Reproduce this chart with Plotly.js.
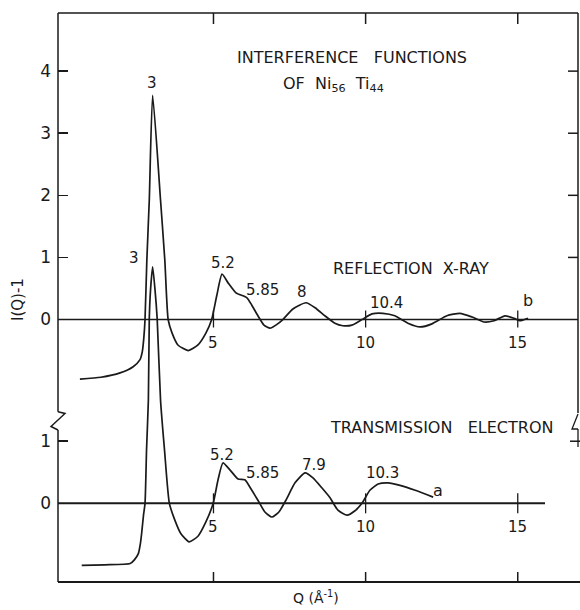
<!DOCTYPE html>
<html>
<head>
<meta charset="utf-8">
<script src="https://cdn.plot.ly/plotly-3.0.1.min.js"></script>
<style>html,body{margin:0;padding:0;background:#fff;}#chart{width:580px;height:610px;}</style>
</head>
<body>
<div id="chart"></div>
<script>
// ---- data ----
// curve b: reflection X-ray, Q in 1/Angstrom, I(Q)-1
var qB = [0.61,1.3,1.93,2.36,2.58,2.66,2.71,2.75,2.81,2.89,3.0,3.26,3.40,3.51,3.64,3.83,4.17,4.49,4.75,4.94,5.11,5.28,5.48,5.74,6.10,6.26,6.46,6.66,6.86,7.05,7.28,7.61,8.04,8.34,8.66,8.99,9.25,9.55,9.88,10.21,10.57,10.96,11.39,11.79,12.18,12.67,13.10,13.50,13.89,14.22,14.58,14.88,15.07,15.34];
var iB = [-0.96,-0.93,-0.86,-0.76,-0.65,-0.52,-0.30,0,0.96,1.92,3.61,1.92,0.96,0,-0.22,-0.41,-0.50,-0.41,-0.22,0,0.39,0.73,0.59,0.43,0.35,0.23,0.06,-0.09,-0.14,-0.09,0,0.17,0.27,0.19,0.06,-0.06,-0.10,-0.09,0,0.09,0.10,0.06,-0.06,-0.12,-0.07,0.06,0.10,0.04,-0.04,-0.02,0.06,0.02,-0.02,0.02];
// curve a: transmission electron
var qA = [0.67,1.43,2.26,2.40,2.53,2.60,2.64,2.70,2.75,2.80,2.86,2.89,2.93,3.00,3.08,3.15,3.26,3.39,3.55,3.73,3.93,4.20,4.49,4.75,4.99,5.15,5.31,5.54,5.81,6.03,6.26,6.46,6.69,6.92,7.15,7.38,7.68,8.01,8.27,8.56,8.83,9.09,9.39,9.65,9.88,10.14,10.41,10.74,11.13,11.63,12.22];
var iA = [-1.00,-0.99,-0.97,-0.91,-0.81,-0.64,-0.48,-0.19,0,0.86,1.66,2.97,3.43,3.81,3.43,2.97,1.66,0.86,0,-0.27,-0.49,-0.62,-0.53,-0.30,0,0.38,0.65,0.54,0.39,0.38,0.21,0.05,-0.14,-0.22,-0.14,0.05,0.33,0.49,0.41,0.25,0.09,-0.11,-0.19,-0.12,0,0.21,0.31,0.33,0.29,0.21,0.10];
// peak labels
var peaksB = ["3","5.2","5.85","8","10.4"];
var peaksA = ["3","5.2","5.85","7.9","10.3"];
var upperTicks = [0,1,2,3,4];
var lowerTicks = [0,1];
var qTicks = [5,10,15];

// ---- layout constants ----
var W = 580, H = 610, ML = 58, MR = 2, MT = 13, MB = 28;
var XR = [-0.11, 16.98];
var YR = [-4.227, 4.936];
var OFFSET = -2.96;           // vertical shift of the lower curve
var INK = '#1a1a1a';
var FONT = 'DejaVu Sans';
var PW = W - ML - MR, PH = H - MT - MB;
// pixel -> data / paper helpers (for labels and frame decorations)
function X(px){ return XR[0] + (px - ML) / PW * (XR[1] - XR[0]); }
function Y(py){ return YR[1] - (py - MT) / PH * (YR[1] - YR[0]); }
function PX(px){ return (px - ML) / PW; }
function PY(py){ return (H - MB - py) / PH; }

var traces = [
  {x: qB, y: iB, mode: 'lines', line: {color: INK, width: 1.7, shape: 'spline', smoothing: 0.55}, hoverinfo: 'skip', showlegend: false},
  {x: qA, y: iA.map(function(v){ return v + OFFSET; }), mode: 'lines', line: {color: INK, width: 1.7, shape: 'spline', smoothing: 0.55}, hoverinfo: 'skip', showlegend: false}
];

var tickvals = upperTicks.slice().reverse().concat(lowerTicks.slice().reverse().map(function(v){return v + OFFSET;}));
var ticktext = upperTicks.slice().reverse().map(String).concat(lowerTicks.slice().reverse().map(String));

var shapes = [];
function seg(x0,y0,x1,y1,w){ shapes.push({type:'line', xref:'paper', yref:'paper', x0:PX(x0), y0:PY(y0), x1:PX(x1), y1:PY(y1), line:{color:INK, width:w||1.5}}); }
// frame: top, bottom, left (with break), right (upper part with break)
seg(58,13,578,13,1.5);
seg(58,582,580,582,2);
seg(58,13,58,411.7,1.5);
seg(58,430,58,582,1.5);
shapes.push({type:'path', xref:'paper', yref:'paper',
  path: 'M'+PX(58)+','+PY(411.7)+' L'+PX(65)+','+PY(413.5)+' L'+PX(51)+','+PY(426.5)+' L'+PX(58)+','+PY(430),
  line:{color:INK, width:1.5}});
seg(578,13,578,413,1.5);
shapes.push({type:'path', xref:'paper', yref:'paper',
  path: 'M'+PX(578)+','+PY(414)+' L'+PX(572)+','+PY(429)+' L'+PX(578)+','+PY(429),
  line:{color:INK, width:1.3}});
seg(578,429,578,447,1.3);
// zero lines
shapes.push({type:'line', xref:'paper', yref:'y', x0:0, x1:1, y0:0, y1:0, line:{color:INK, width:1.3}});
shapes.push({type:'line', xref:'paper', yref:'y', x0:0, x1:PX(545), y0:OFFSET, y1:OFFSET, line:{color:INK, width:2}});
// ticks on top / bottom frame and on zero lines
qTicks.forEach(function(q){
  shapes.push({type:'line', xref:'x', yref:'paper', ysizemode:'pixel', yanchor:1, x0:q, x1:q, y0:0, y1:-11, line:{color:INK, width:1.5}});
  shapes.push({type:'line', xref:'x', yref:'paper', ysizemode:'pixel', yanchor:0, x0:q, x1:q, y0:0, y1:10, line:{color:INK, width:1.5}});
  shapes.push({type:'line', xref:'x', yref:'y', ysizemode:'pixel', yanchor:0, x0:q, x1:q, y0:-8, y1:9, line:{color:INK, width:1.3}});
  shapes.push({type:'line', xref:'x', yref:'y', ysizemode:'pixel', yanchor:OFFSET, x0:q, x1:q, y0:-10, y1:10, line:{color:INK, width:1.3}});
});
// right-hand ticks
upperTicks.slice(1).forEach(function(v){
  shapes.push({type:'line', xref:'paper', yref:'y', xsizemode:'pixel', xanchor:1, x0:0, x1:-10, y0:v, y1:v, line:{color:INK, width:1.5}});
});
shapes.push({type:'line', xref:'paper', yref:'y', xsizemode:'pixel', xanchor:1, x0:2, x1:-8, y0:1+OFFSET, y1:1+OFFSET, line:{color:INK, width:1.5}});

var ann = [];
function txt(t, px, py, size, extra){
  var a = {text:t, x:X(px), y:Y(py), xref:'x', yref:'y', showarrow:false, xanchor:'center', yanchor:'middle', font:{family:FONT, size:size, color:INK}};
  if (extra) for (var k in extra) a[k] = extra[k];
  ann.push(a);
}
txt('INTERFERENCE&nbsp;&nbsp;&nbsp;FUNCTIONS', 352, 57, 16);
txt('OF&nbsp;&nbsp;Ni<sub>56</sub>&nbsp;&nbsp;Ti<sub>44</sub>', 333, 84, 16);
txt('REFLECTION&nbsp;&nbsp;X-RAY', 411, 268, 16);
txt('TRANSMISSION&nbsp;&nbsp;&nbsp;ELECTRON', 441, 427, 16);
// peak labels, curve b
var posB = [[152,83],[223,263],[262,290],[302,292],[386,303]];
peaksB.forEach(function(t,i){ txt(t, posB[i][0], posB[i][1], 15); });
txt('b', 528, 300, 16);
// peak labels, curve a
var posA = [[134,258],[222,455],[262,473],[314,465],[382,473]];
peaksA.forEach(function(t,i){ txt(t, posA[i][0], posA[i][1], 15); });
txt('a', 438, 490, 16);
// Q labels on the two zero lines
qTicks.forEach(function(q){
  ann.push({text:String(q), x:q, y:0, xref:'x', yref:'y', yshift:-23, showarrow:false, font:{family:FONT, size:15, color:INK}});
  ann.push({text:String(q), x:q, y:OFFSET, xref:'x', yref:'y', yshift:-24, showarrow:false, font:{family:FONT, size:15, color:INK}});
});
// axis titles
ann.push({text:'I(Q)-1', xref:'paper', yref:'paper', x:PX(18), y:PY(300), textangle:-90, showarrow:false, xanchor:'center', yanchor:'middle', font:{family:FONT, size:15, color:INK}});
ann.push({text:'Q (Å<sup>-1</sup>)', xref:'paper', yref:'paper', x:PX(316), y:PY(597), showarrow:false, xanchor:'center', yanchor:'middle', font:{family:FONT, size:14, color:INK}});

var layout = {
  width: W, height: H,
  margin: {l: ML, r: MR, t: MT, b: MB, pad: 0},
  paper_bgcolor: '#ffffff', plot_bgcolor: '#ffffff',
  showlegend: false,
  xaxis: {range: XR, showgrid:false, zeroline:false, showline:false, ticks:'', showticklabels:false, fixedrange:true},
  yaxis: {range: YR, showgrid:false, zeroline:false, showline:false, ticks:'inside', ticklen:10, tickwidth:1.5, tickcolor:INK,
          tickvals: tickvals, ticktext: ticktext, ticklabelstandoff: 6,
          tickfont:{family:FONT, size:17, color:INK}, fixedrange:true},
  shapes: shapes,
  annotations: ann
};
Plotly.newPlot('chart', traces, layout, {staticPlot:true, displayModeBar:false});
</script>
</body>
</html>
